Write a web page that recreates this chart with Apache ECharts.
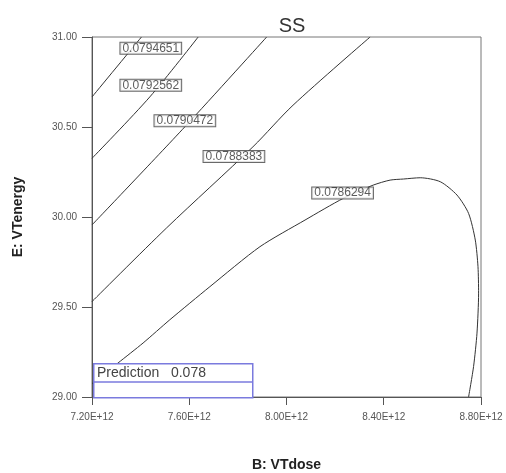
<!DOCTYPE html>
<html><head><meta charset="utf-8">
<script src="https://cdn.jsdelivr.net/npm/echarts@6/dist/echarts.min.js"></script>
<style>html,body{margin:0;padding:0;background:#fff}#c{width:506px;height:473px}</style>
</head><body><div id="c"></div>
<script>
// x values in units of 1E+12
const contourLevels = ['0.0794651','0.0792562','0.0790472','0.0788383','0.0786294'];
const contour1X = [7.4035, 7.2];
const contour1Y = [31.000, 30.667];
const contour2X = [7.6367, 7.4377, 7.2];
const contour2Y = [31.000, 30.667, 30.326];
const contour3X = [7.9184, 7.5819, 7.2];
const contour3Y = [31.000, 30.501, 29.956];
const contour4X = [8.344, 8.0268, 7.862, 7.5065, 7.2];
const contour4Y = [31.000, 30.621, 30.390, 29.939, 29.530];
const contour5X = [7.2, 7.3071, 7.4101, 7.5201, 7.6849, 7.8908, 8.0762, 8.234, 8.3563, 8.4264, 8.4812, 8.55, 8.6324, 8.7011, 8.7489, 8.7765, 8.7876, 8.7901, 8.7835, 8.7695, 8.7489];
const contour5Y = [29.074, 29.189, 29.300, 29.429, 29.613, 29.835, 29.983, 30.104, 30.177, 30.205, 30.211, 30.218, 30.196, 30.122, 30.020, 29.872, 29.724, 29.577, 29.355, 29.170, 29.000];
const labelX = [7.4418, 7.4418, 7.5819, 7.7837, 8.2307];
const labelY = [30.937, 30.732, 30.535, 30.336, 30.133];
const xTickLabels = ['7.20E+12','7.60E+12','8.00E+12','8.40E+12','8.80E+12'];
const yTickLabels = ['29.00','29.50','30.00','30.50','31.00'];
const predictionText = 'Prediction   0.078';

const FONT = '"Liberation Sans", Arial, sans-serif';
const contours = [[contour1X,contour1Y],[contour2X,contour2Y],[contour3X,contour3Y],[contour4X,contour4Y],[contour5X,contour5Y]];
const lineSeries = contours.map(([xs,ys],i)=>({
  type:'line', data: xs.map((x,j)=>[x,ys[j]]), showSymbol:false, symbol:'none',
  smooth: i===4 ? 0.25 : 0.3, lineStyle:{color:'#333', width:1}, z:2, silent:true
}));
const labelSeries = {
  type:'scatter', symbolSize:1, itemStyle:{color:'transparent'}, z:5, silent:true,
  data: labelX.map((x,i)=>[x,labelY[i]]),
  label:{show:true, position:'inside', formatter:p=>contourLevels[p.dataIndex],
    fontFamily:FONT, fontSize:12, color:'#333', backgroundColor:'#fff',
    borderColor:'#444', borderWidth:1, padding:[0,2,0,2], lineHeight:11}
};

const chart = echarts.init(document.getElementById('c'), null, {renderer:'canvas'});
chart.setOption({
  animation:false,
  backgroundColor:'#fff',
  title:{text:'SS', left:287, top:11, textAlign:'center',
    textStyle:{fontFamily:FONT, fontSize:20, fontWeight:'normal', color:'#333'}},
  grid:{left:92, right:25, top:37, bottom:76, containLabel:false, outerBoundsMode:'none',
    show:true, borderColor:'#777', borderWidth:1, backgroundColor:'#fff'},
  xAxis:{type:'value', min:7.2, max:8.8, interval:0.4,
    name:'B: VTdose', nameLocation:'middle', nameGap:61,
    nameTextStyle:{fontFamily:FONT, fontSize:14, fontWeight:'bold', color:'#222'},
    axisLine:{lineStyle:{color:'#555'}}, axisTick:{length:8, lineStyle:{color:'#555'}},
    splitLine:{show:false},
    axisLabel:{margin:15, fontFamily:FONT, fontSize:10, color:'#555',
      formatter:v=>xTickLabels[Math.round((v-7.2)/0.4)]}},
  yAxis:{type:'value', min:29, max:31, interval:0.5,
    name:'E: VTenergy', nameLocation:'middle', nameGap:67, nameRotate:90,
    nameTextStyle:{fontFamily:FONT, fontSize:14, fontWeight:'bold', color:'#222'},
    axisLine:{show:true, lineStyle:{color:'#555'}}, axisTick:{show:true, length:10, lineStyle:{color:'#555'}},
    splitLine:{show:false},
    axisLabel:{margin:15, fontFamily:FONT, fontSize:10, color:'#555',
      formatter:v=>yTickLabels[Math.round((v-29)/0.5)]}},
  series:[...lineSeries, labelSeries],
  graphic:[
    {type:'rect', left:93, top:363, z:100, shape:{width:159, height:34},
      style:{fill:'#fff', stroke:'#7a7ade', lineWidth:1.5}},
    {type:'line', z:101, shape:{x1:93, y1:382, x2:252, y2:382}, style:{stroke:'#7a7ade', lineWidth:1.5}},
    {type:'text', left:97, top:366, z:102,
      style:{text:predictionText, fontFamily:FONT, fontSize:14, fill:'#444'}}
  ]
});
</script></body></html>
